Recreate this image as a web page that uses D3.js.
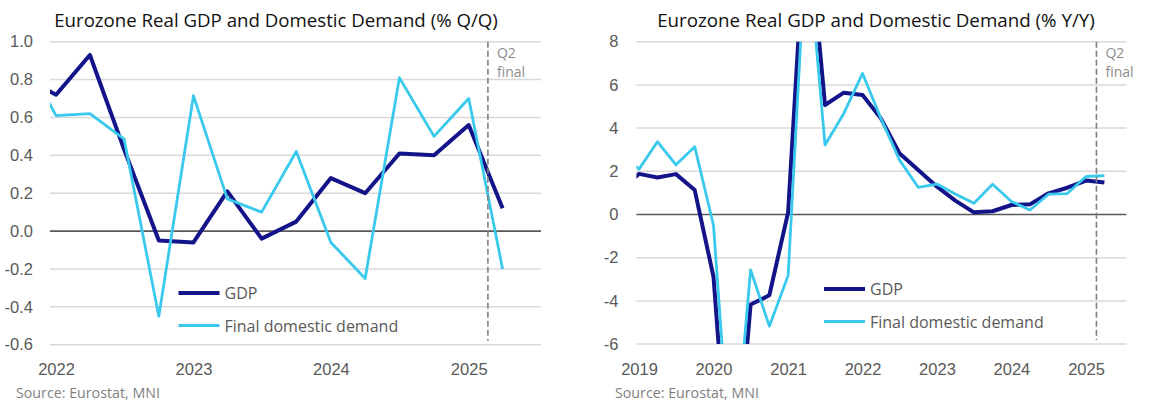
<!DOCTYPE html>
<html>
<head>
<meta charset="utf-8">
<script src="https://cdn.jsdelivr.net/npm/d3@7"></script>
<style>
  body { margin: 0; background: #fff; }
  svg { display: block; font-family: "Open Sans", "Noto Sans", sans-serif; }
</style>
</head>
<body>
<svg id="chart" width="1172" height="408"></svg>
<script>
// quarterly data, dated at start of quarter
const qqDates = ["2021-10-01","2022-01-01","2022-04-01","2022-07-01","2022-10-01",
  "2023-01-01","2023-04-01","2023-07-01","2023-10-01","2024-01-01","2024-04-01",
  "2024-07-01","2024-10-01","2025-01-01","2025-04-01"]
const qqGdp = [0.82, 0.72, 0.93, 0.43, -0.05, -0.06, 0.21, -0.04, 0.05, 0.28, 0.20, 0.41, 0.40, 0.56, 0.12]
const qqFdd = [0.95, 0.61, 0.62, 0.485, -0.45, 0.715, 0.17, 0.10, 0.42, -0.06, -0.25, 0.81, 0.50, 0.70, -0.20]

const yyDates = ["2018-10-01","2019-01-01","2019-04-01","2019-07-01","2019-10-01",
  "2020-01-01","2020-04-01","2020-07-01","2020-10-01","2021-01-01","2021-04-01",
  "2021-07-01","2021-10-01","2022-01-01","2022-04-01","2022-07-01","2022-10-01",
  "2023-01-01","2023-04-01","2023-07-01","2023-10-01","2024-01-01","2024-04-01",
  "2024-07-01","2024-10-01","2025-01-01","2025-04-01"]
const yyGdp = [1.15, 1.88, 1.71, 1.87, 1.13, -2.88, -14.3, -4.17, -3.74, 0.1, 14.4,
  5.07, 5.64, 5.53, 4.45, 2.84, 2.06, 1.29, 0.64, 0.10, 0.15, 0.44, 0.47, 0.98, 1.24, 1.57, 1.48]
const yyFdd = [2.85, 2.1, 3.37, 2.3, 3.14, -0.5, -12.5, -2.56, -5.17, -2.83, 13.0,
  3.22, 4.68, 6.53, 4.45, 2.53, 1.26, 1.41, 0.95, 0.52, 1.4, 0.6, 0.21, 0.94, 0.97, 1.76, 1.8]

const qqTicks = [-0.6, -0.4, -0.2, 0, 0.2, 0.4, 0.6, 0.8, 1.0]
const yyTicks = [-6, -4, -2, 0, 2, 4, 6, 8]
const qqYears = ["2022","2023","2024","2025"]
const yyYears = ["2019","2020","2021","2022","2023","2024","2025"]
const seriesNames = ["GDP", "Final domestic demand"]
const markerDate = "2025-02-21"   // Q2 final release line

const navy = "#14148a"
const cyan = "#38c9ec"
const parse = d3.timeParse("%Y-%m-%d")
const svg = d3.select("#chart")

// excel style: plain hyphen for negatives
const hyph = f => d => f(d).replace("\u2212", "-")

function fit(sel, w) {
  sel.each(function () {
    const fs = parseFloat(d3.select(this).style("font-size"))
    const bw = this.getComputedTextLength()
    d3.select(this).style("font-size", (fs * w / bw) + "px")
  })
}

function panel(cfg) {
  const g = svg.append("g")
  const x = d3.scaleTime().domain(cfg.xDomain.map(parse)).range(cfg.xRange)
  const y = d3.scaleLinear().domain(cfg.yDomain).range(cfg.yRange)
  const [x0, x1] = cfg.xRange

  // title
  g.append("text")
    .attr("x", cfg.titleX).attr("y", 27)
    .attr("text-anchor", "middle")
    .style("font-size", "17px").attr("fill", "#111")
    .text(cfg.title)
    .call(fit, cfg.titleW)

  // gridlines
  g.selectAll(".grid").data(cfg.ticks.filter(d => d !== 0)).join("line")
    .attr("x1", x0).attr("x2", x1)
    .attr("y1", d => y(d)).attr("y2", d => y(d))
    .attr("stroke", "#d9d9d9").attr("stroke-width", 1.5)

  // y labels
  const ya = g.append("g").attr("transform", `translate(${x0},0)`)
    .call(d3.axisLeft(y).tickValues(cfg.ticks).tickFormat(hyph(cfg.fmt)).tickSize(0).tickPadding(cfg.pad))
  ya.select(".domain").remove()
  ya.selectAll("text").style("font-size", "16.5px").attr("fill", "#595959").attr("font-family", null)

  // x labels
  const xa = g.append("g").attr("transform", `translate(0,${cfg.xLabelY})`)
    .call(d3.axisBottom(x).tickValues(cfg.years.map(d => parse(d + "-01-01")))
      .tickFormat(d3.timeFormat("%Y")).tickSize(0))
  xa.select(".domain").remove()
  xa.selectAll("text").attr("y", 0).attr("dy", 0)
    .style("font-size", "16.5px").attr("fill", "#595959").attr("font-family", null)

  // zero line
  g.append("line").attr("x1", x0).attr("x2", x1)
    .attr("y1", y(0)).attr("y2", y(0))
    .attr("stroke", "#595959").attr("stroke-width", 1.6)

  // clip + lines
  const clipId = "clip-" + cfg.id
  svg.append("clipPath").attr("id", clipId).append("rect")
    .attr("x", x0).attr("width", x1 - x0)
    .attr("y", cfg.yRange[1]).attr("height", cfg.yRange[0] - cfg.yRange[1])
  const line = d3.line().x((d, i) => x(parse(cfg.dates[i]))).y(d => y(d))
  const lg = g.append("g").attr("clip-path", `url(#${clipId})`)
  lg.append("path").attr("d", line(cfg.gdp))
    .attr("fill", "none").attr("stroke", navy).attr("stroke-width", 4)
    .attr("stroke-linejoin", "round")
  lg.append("path").attr("d", line(cfg.fdd))
    .attr("fill", "none").attr("stroke", cyan).attr("stroke-width", 2.8)
    .attr("stroke-linejoin", "round")

  // release marker
  const mx = x(parse(markerDate))
  g.append("line").attr("x1", mx).attr("x2", mx)
    .attr("y1", cfg.yRange[1]).attr("y2", cfg.yRange[0] - 4)
    .attr("stroke", "#7f7f7f").attr("stroke-width", 1.6).attr("stroke-dasharray", "6,3")
  g.append("text").attr("x", mx + 9).attr("y", 58)
    .style("font-size", "14px").attr("fill", "#8c8c8c").text("Q2")
  g.append("text").attr("x", mx + 9).attr("y", 77)
    .style("font-size", "14px").attr("fill", "#8c8c8c").text("final")

  // legend
  const lx = cfg.legend[0], ly = cfg.legend[1]
  seriesNames.forEach((name, i) => {
    const yy = ly + i * 32.5
    g.append("line").attr("x1", lx).attr("x2", lx + 41)
      .attr("y1", yy).attr("y2", yy)
      .attr("stroke", i === 0 ? navy : cyan).attr("stroke-width", i === 0 ? 4 : 2.8)
    g.append("text").attr("x", lx + 46).attr("y", yy + 6)
      .style("font-size", "16px").attr("fill", "#595959").text(name)
  })

  // source
  g.append("text").attr("x", cfg.srcX).attr("y", 398)
    .style("font-size", "13px").attr("fill", "#7f7f7f")
    .text("Source: Eurostat, MNI")
    .call(fit, 144)
}

panel({
  id: "qq", title: "Eurozone Real GDP and Domestic Demand (% Q/Q)", titleX: 276, titleW: 444,
  xDomain: ["2021-12-16", "2025-07-12"], xRange: [50, 541],
  yDomain: [-0.6, 1.0], yRange: [344.7, 41.7],
  ticks: qqTicks, fmt: d3.format(".1f"), pad: 17, years: qqYears, xLabelY: 375,
  dates: qqDates, gdp: qqGdp, fdd: qqFdd, legend: [178.5, 293], srcX: 16
})

panel({
  id: "yy", title: "Eurozone Real GDP and Domestic Demand (% Y/Y)", titleX: 876, titleW: 438,
  xDomain: ["2018-12-19", "2025-07-18"], xRange: [636.4, 1126.4],
  yDomain: [-6, 8], yRange: [344.1, 41.7],
  ticks: yyTicks, fmt: d3.format("d"), pad: 18, years: yyYears, xLabelY: 375,
  dates: yyDates, gdp: yyGdp, fdd: yyFdd, legend: [824, 289], srcX: 615
})
</script>
</body>
</html>
